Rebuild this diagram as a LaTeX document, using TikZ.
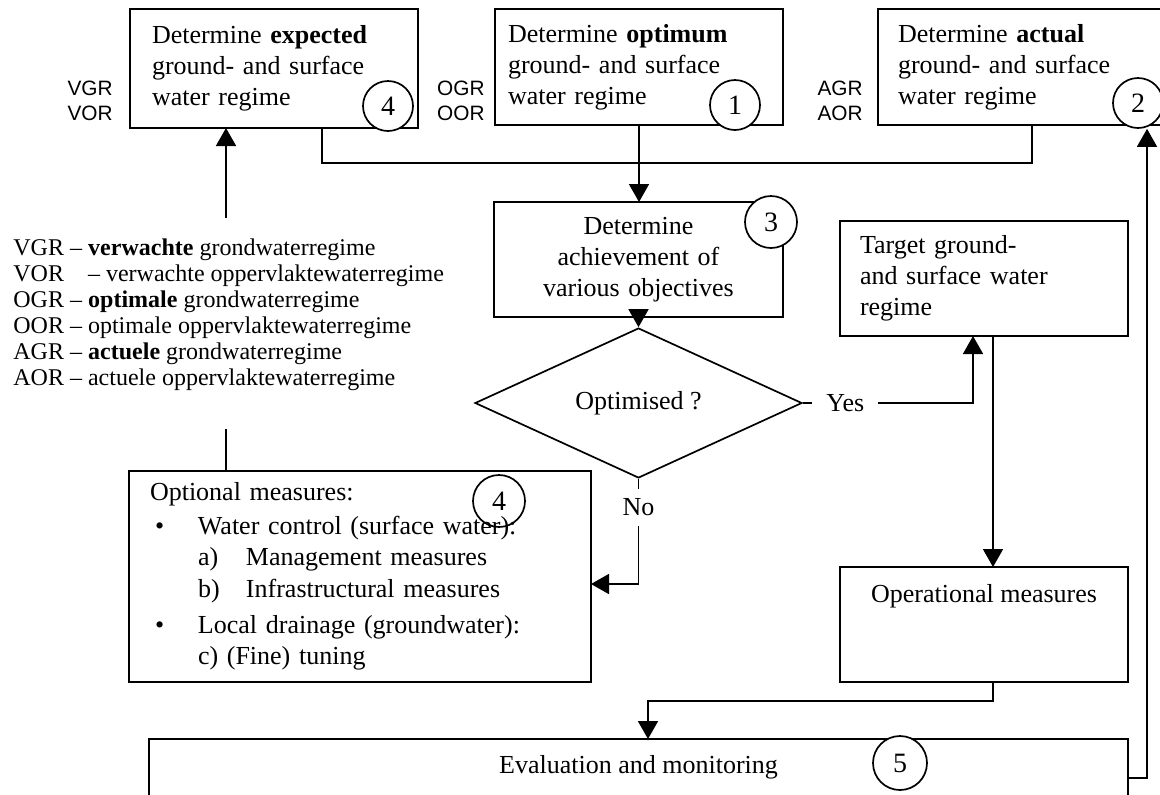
\documentclass[tikz,border=0pt]{standalone}
\usepackage{fontspec}
\setmainfont{Liberation Serif}
\newfontfamily\arialf{Liberation Sans}
\usetikzlibrary{shapes.geometric,arrows.meta}
\begin{document}
\begin{tikzpicture}[x=0.5pt,y=-0.5pt,
  lw/.style={line width=0.85pt},
  box/.style={draw,lw,rectangle,anchor=north west,outer sep=0pt,inner ysep=0pt,
    font=\fontsize{13}{15.5}\selectfont},
  num/.style={draw,lw,circle,fill=white,inner sep=0pt,font=\fontsize{14}{14}\selectfont},
  abbr/.style={align=right,anchor=east,inner sep=0pt,
    font=\arialf\fontsize{10.4}{12.5}\selectfont},
  arr/.style={lw,-{Triangle[length=9pt,width=10pt]}},
  onlabel/.style={fill=white,font=\fontsize{13}{15.5}\selectfont}
]
\useasboundingbox (0,0) rectangle (1160,794);

% top row
\node[box, inner xsep=11pt, text width=122pt, minimum height=59.5pt, align=left] (E) at (130,9)
  {Determine \textbf{expected}\\ground- and surface\\water regime};
\node[box, inner xsep=6.5pt, text width=131pt, minimum height=58pt, align=left] (O) at (495,9)
  {Determine \textbf{optimum}\\ground- and surface\\water regime};
\node[box, inner xsep=10pt, text width=124pt, minimum height=58pt, align=left] (A) at (878,9)
  {Determine \textbf{actual}\\ground- and surface\\water regime};

\node[abbr] (abE) at (113,100.5) {VGR\\VOR};
\node[abbr] (abO) at (485,100.5) {OGR\\OOR};
\node[abbr] (abA) at (863,100.5) {AGR\\AOR};

% middle
\node[box, inner xsep=4pt, text width=136.5pt, minimum height=57.5pt, align=center] (D) at (494,202)
  {Determine\\achievement of\\various objectives};
\node[draw, lw, diamond, minimum width=163.5pt, minimum height=48pt, inner sep=0pt,
  font=\fontsize{13}{15.5}\selectfont] (dia) at (638.5,403) {Optimised ?};
\node[box, inner xsep=10pt, text width=124pt, minimum height=57.5pt, align=left] (T) at (840,221)
  {Target ground-\\and surface water\\regime};

% legend
\node[anchor=west, align=left, inner sep=0pt, font=\fontsize{12}{13}\selectfont] (legend) at (13,315)
  {VGR -- \textbf{verwachte} grondwaterregime\\
   VOR\hspace{12pt}-- verwachte oppervlaktewaterregime\\
   OGR -- \textbf{optimale} grondwaterregime\\
   OOR -- optimale oppervlaktewaterregime\\
   AGR -- \textbf{actuele} grondwaterregime\\
   AOR -- actuele oppervlaktewaterregime};

% optional measures
\node[box, inner xsep=10.5pt, text width=210pt, minimum height=105.5pt, align=left] (opt) at (129,471)
  {\fontsize{13}{15.75}\selectfont
   Optional measures:\\[1pt]
   \hspace*{2.5pt}\makebox[21.5pt][l]{\textbullet}Water control (surface water):\\
   \hspace*{24pt}\makebox[24pt][l]{a)}Management measures\\
   \hspace*{24pt}\makebox[24pt][l]{b)}Infrastructural measures\\[2.5pt]
   \hspace*{2.5pt}\makebox[21.5pt][l]{\textbullet}Local drainage (groundwater):\\
   \hspace*{24pt}c) (Fine) tuning};

% operational and evaluation
\node[box, minimum width=144pt, text height=17.5pt, text depth=40pt] (op) at (840,567)
  {Operational measures};
\node[box, minimum width=489.5pt, text height=17pt, text depth=30pt] (ev) at (149,739)
  {Evaluation and monitoring};

% connectors
\coordinate (j1) at (322,163);
\coordinate (j3) at (1032,163);
\draw[lw] (E.south -| j1) -- (j1) -- (j3) -- (A.south -| j3);
\draw[arr] (O.south) -- (O.south |- D.north);
\draw[arr] (D.south) -- (dia.north);

\coordinate (la) at (226,429);
\coordinate (lb) at (226,218);
\draw[lw] (opt.north -| la) -- (la);
\draw[arr] (lb) -- (lb |- E.south);

\coordinate (yc) at (973,403);
\draw[arr] (dia.east) -- node[onlabel, pos=0.25, inner xsep=7pt, inner ysep=2pt] (yes) {Yes} (yc) -- (yc |- T.south);

\coordinate (nc) at (638.5,584);
\draw[arr] (dia.south) -- node[onlabel, pos=0.27, inner xsep=1pt, inner ysep=5pt] (no) {No} (nc) -- (nc -| opt.east);

\draw[arr] ([xshift=4.5pt]T.south) -- ([xshift=4.5pt]op.north);

\coordinate (oc) at (648,701);
\draw[arr] ([xshift=4.5pt]op.south) |- (oc) -- (oc |- ev.north);

% numbered circles
\node[num, minimum size=25pt] (n4a) at (388,106) {4};
\node[num, minimum size=25pt] (n1) at (735,105) {1};
\node[num, minimum size=25pt] (n2) at (1138,103) {2};
\node[num, minimum size=26pt] (n3) at (771,222) {3};
\node[num, minimum size=26pt, fill=none] (n4b) at (499,501) {4};
\node[num, minimum size=27pt] (n5) at (900,763) {5};

\coordinate (rc) at (1147,778);
\draw[arr] (ev.east |- rc) -- (rc) -- (rc |- n2.south);
\end{tikzpicture}
\end{document}
